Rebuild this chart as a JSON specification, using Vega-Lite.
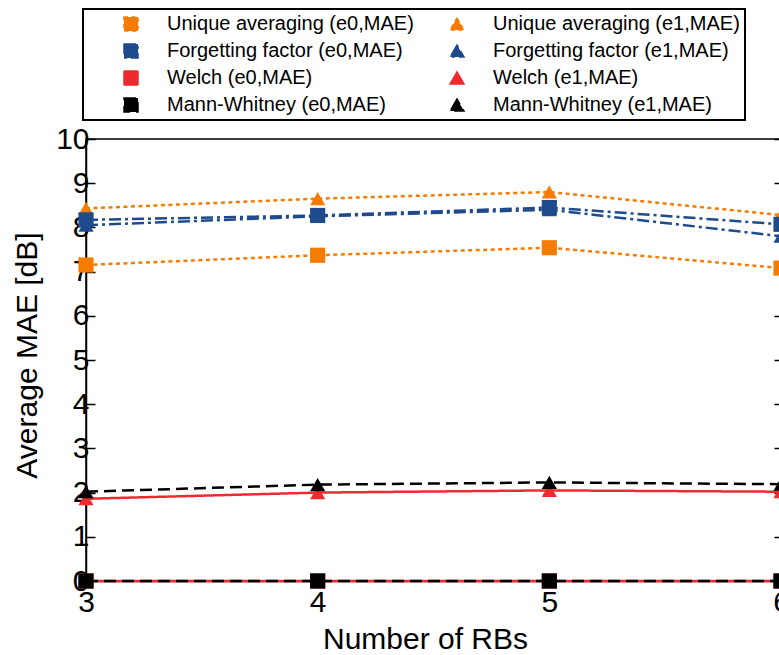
{
  "$schema": "https://vega.github.io/schema/vega-lite/v6.json",
  "width": 695,
  "height": 442,
  "autosize": {"type": "none"},
  "padding": {"left": 86, "top": 139, "right": 0, "bottom": 74},
  "background": "white",
  "config": {
    "font": "Liberation Sans",
    "view": {"stroke": "black", "strokeWidth": 1.5},
    "axis": {
      "domainColor": "black", "domainWidth": 1.5, "tickColor": "black", "tickWidth": 1.5,
      "labelColor": "black", "titleColor": "black", "labelFont": "Liberation Sans", "titleFont": "Liberation Sans",
      "labelFontSize": 30, "titleFontSize": 30, "titleFontWeight": "normal", "grid": false
    },
    "legend": {"strokeWidth": 2}
  },
  "data": {
    "values": [
      {"series": "Unique averaging (e0,MAE)", "rb": 3, "mae": 7.15},
      {"series": "Unique averaging (e0,MAE)", "rb": 4, "mae": 7.37},
      {"series": "Unique averaging (e0,MAE)", "rb": 5, "mae": 7.54},
      {"series": "Unique averaging (e0,MAE)", "rb": 6, "mae": 7.08},
      {"series": "Unique averaging (e1,MAE)", "rb": 3, "mae": 8.43},
      {"series": "Unique averaging (e1,MAE)", "rb": 4, "mae": 8.65},
      {"series": "Unique averaging (e1,MAE)", "rb": 5, "mae": 8.8},
      {"series": "Unique averaging (e1,MAE)", "rb": 6, "mae": 8.28},
      {"series": "Forgetting factor (e0,MAE)", "rb": 3, "mae": 8.17},
      {"series": "Forgetting factor (e0,MAE)", "rb": 4, "mae": 8.27},
      {"series": "Forgetting factor (e0,MAE)", "rb": 5, "mae": 8.45},
      {"series": "Forgetting factor (e0,MAE)", "rb": 6, "mae": 8.07},
      {"series": "Forgetting factor (e1,MAE)", "rb": 3, "mae": 8.05},
      {"series": "Forgetting factor (e1,MAE)", "rb": 4, "mae": 8.25},
      {"series": "Forgetting factor (e1,MAE)", "rb": 5, "mae": 8.4},
      {"series": "Forgetting factor (e1,MAE)", "rb": 6, "mae": 7.8},
      {"series": "Welch (e0,MAE)", "rb": 3, "mae": 0},
      {"series": "Welch (e0,MAE)", "rb": 4, "mae": 0},
      {"series": "Welch (e0,MAE)", "rb": 5, "mae": 0},
      {"series": "Welch (e0,MAE)", "rb": 6, "mae": 0},
      {"series": "Welch (e1,MAE)", "rb": 3, "mae": 1.86},
      {"series": "Welch (e1,MAE)", "rb": 4, "mae": 2.0},
      {"series": "Welch (e1,MAE)", "rb": 5, "mae": 2.05},
      {"series": "Welch (e1,MAE)", "rb": 6, "mae": 2.02},
      {"series": "Mann-Whitney (e0,MAE)", "rb": 3, "mae": 0},
      {"series": "Mann-Whitney (e0,MAE)", "rb": 4, "mae": 0},
      {"series": "Mann-Whitney (e0,MAE)", "rb": 5, "mae": 0},
      {"series": "Mann-Whitney (e0,MAE)", "rb": 6, "mae": 0},
      {"series": "Mann-Whitney (e1,MAE)", "rb": 3, "mae": 2.02},
      {"series": "Mann-Whitney (e1,MAE)", "rb": 4, "mae": 2.18},
      {"series": "Mann-Whitney (e1,MAE)", "rb": 5, "mae": 2.23},
      {"series": "Mann-Whitney (e1,MAE)", "rb": 6, "mae": 2.19}
    ]
  },
  "encoding": {
    "x": {
      "field": "rb", "type": "quantitative",
      "scale": {"domain": [3, 6], "nice": false, "zero": false},
      "axis": {
        "values": [3, 3.5, 4, 4.5, 5, 5.5, 6], "format": "d",
        "labelExpr": "datum.value % 1 === 0 ? datum.label : ''",
        "tickSize": -6, "labelPadding": 12, "labelOverlap": false, "labelFlush": false,
        "title": "Number of RBs", "titleX": 339, "titleY": 67, "titleBaseline": "alphabetic", "titleAlign": "center"
      }
    },
    "color": {
      "field": "series", "type": "nominal",
      "scale": {
        "domain": ["Unique averaging (e0,MAE)", "Unique averaging (e1,MAE)", "Forgetting factor (e0,MAE)", "Forgetting factor (e1,MAE)", "Welch (e0,MAE)", "Welch (e1,MAE)", "Mann-Whitney (e0,MAE)", "Mann-Whitney (e1,MAE)"],
        "range": ["#f57c00", "#f57c00", "#1f4a8c", "#1f4a8c", "#ee2a2e", "#ee2a2e", "#000000", "#000000"]
      },
      "legend": {
        "title": null, "orient": "none", "legendX": -3, "legendY": -130, "columns": 2, "direction": "horizontal", "padding": 5,
        "strokeColor": "black", "labelFontSize": 20, "labelFont": "Liberation Sans", "labelColor": "black", "labelLimit": 600,
        "symbolSize": 196, "symbolOffset": 33, "labelOffset": 26, "rowPadding": 7, "columnPadding": -23,
        "labelExpr": "indexof(datum.label, 'e1,') >= 0 ? datum.label + '\u00a0\u00a0\u00a0\u00a0\u00a0\u00a0\u00a0\u00a0\u00a0\u00a0\u00a0\u00a0\u00a0\u00a0' : datum.label"
      }
    }
  },
  "layer": [
    {
      "mark": {"type": "line", "strokeWidth": 2.5},
      "encoding": {
        "y": {
          "field": "mae", "type": "quantitative",
          "scale": {"domain": [0, 10], "nice": false},
          "axis": {
            "values": [0, 1, 2, 3, 4, 5, 6, 7, 8, 9, 10], "tickSize": -9, "labelPadding": 6,
            "title": "Average MAE [dB]", "titleX": -50, "titleY": 216, "titleAngle": 270,
            "titleBaseline": "alphabetic", "titleAlign": "center"
          }
        },
        "strokeDash": {
          "field": "series", "type": "nominal",
          "scale": {
            "domain": ["Unique averaging (e0,MAE)", "Unique averaging (e1,MAE)", "Forgetting factor (e0,MAE)", "Forgetting factor (e1,MAE)", "Welch (e0,MAE)", "Welch (e1,MAE)", "Mann-Whitney (e0,MAE)", "Mann-Whitney (e1,MAE)"],
            "range": [[4, 3.5], [4, 3.5], [12, 4, 3, 4], [12, 4, 3, 4], [1, 0], [1, 0], [12, 6], [12, 6]]
          },
          "legend": null
        }
      }
    },
    {
      "mark": {"type": "point", "filled": true, "opacity": 1, "size": 230},
      "encoding": {
        "y": {
          "field": "mae", "type": "quantitative",
          "scale": {"domain": [0, 10], "nice": false},
          "axis": {"orient": "right", "values": [0, 1, 2, 3, 4, 5, 6, 7, 8, 9, 10], "tickSize": -7, "labels": false, "domain": false, "title": null}
        },
        "shape": {
          "field": "series", "type": "nominal",
          "scale": {
            "domain": ["Unique averaging (e0,MAE)", "Unique averaging (e1,MAE)", "Forgetting factor (e0,MAE)", "Forgetting factor (e1,MAE)", "Welch (e0,MAE)", "Welch (e1,MAE)", "Mann-Whitney (e0,MAE)", "Mann-Whitney (e1,MAE)"],
            "range": ["square", "triangle-up", "square", "triangle-up", "square", "triangle-up", "square", "triangle-up"]
          },
          "legend": {
            "title": null, "orient": "none", "legendX": -3, "legendY": -130, "columns": 2, "direction": "horizontal", "padding": 5,
            "strokeColor": "black", "labelFontSize": 20, "labelFont": "Liberation Sans", "labelColor": "black", "labelLimit": 600,
            "symbolSize": 196, "symbolOffset": 33, "labelOffset": 26, "rowPadding": 7, "columnPadding": -23,
            "labelExpr": "indexof(datum.label, 'e1,') >= 0 ? datum.label + '\u00a0\u00a0\u00a0\u00a0\u00a0\u00a0\u00a0\u00a0\u00a0\u00a0\u00a0\u00a0\u00a0\u00a0' : datum.label"
          }
        }
      }
    }
  ],
  "resolve": {"scale": {"y": "independent"}, "axis": {"y": "independent"}}
}
